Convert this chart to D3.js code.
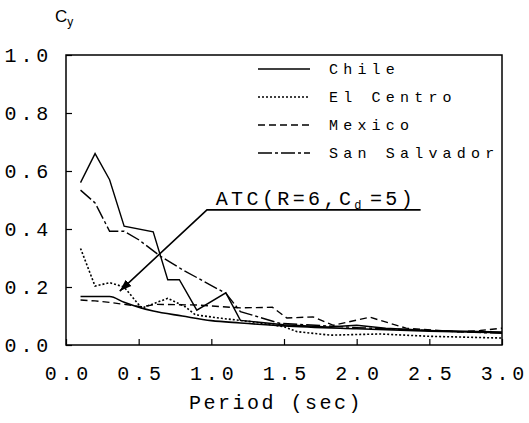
<!DOCTYPE html>
<html>
<head>
<meta charset="utf-8">
<script src="https://cdn.jsdelivr.net/npm/d3@7"></script>
<style>
  body { margin: 0; background: #fff; }
  svg { display: block; }
</style>
</head>
<body>
<svg id="chart"></svg>
<script>
// Données : [période (s), Cy]
const chile = [[0.1, 0.56], [0.2, 0.66], [0.3, 0.57], [0.4, 0.41], [0.6, 0.39], [0.7, 0.225],
    [0.78, 0.225], [0.9, 0.12], [1.1, 0.18], [1.2, 0.085], [1.5, 0.07], [1.8, 0.062],
    [2.0, 0.068], [2.2, 0.058], [2.5, 0.05], [3.0, 0.045]];
const elCentro = [[0.1, 0.333], [0.2, 0.203], [0.3, 0.215], [0.4, 0.2], [0.52, 0.127], [0.7, 0.161],
    [0.82, 0.132], [0.89, 0.104], [1.07, 0.092], [1.28, 0.08], [1.5, 0.063], [1.59, 0.046],
    [1.82, 0.034], [2.16, 0.038], [2.5, 0.03], [3.0, 0.024]];
const mexico = [[0.1, 0.155], [0.2, 0.152], [0.3, 0.147], [0.52, 0.132], [0.62, 0.14], [0.9, 0.138],
    [1.2, 0.128], [1.42, 0.13], [1.52, 0.093], [1.7, 0.097], [1.84, 0.068], [2.09, 0.096],
    [2.34, 0.058], [2.7, 0.045], [2.85, 0.05], [3.0, 0.058]];
const sanSalvador = [[0.1, 0.534], [0.2, 0.49], [0.3, 0.392], [0.4, 0.392], [0.5, 0.363], [0.65, 0.306],
    [0.8, 0.26], [1.1, 0.178], [1.2, 0.115], [1.47, 0.075], [2.0, 0.06], [2.5, 0.05], [3.0, 0.04]];
const atc = [[0.1, 0.167], [0.3, 0.167], [0.4, 0.147], [0.5, 0.13], [0.6, 0.117], [0.8, 0.1],
    [1.0, 0.084], [1.2, 0.076], [1.5, 0.066], [2.0, 0.056], [2.5, 0.048], [3.0, 0.042]];

const seriesNames = ["Chile", "El Centro", "Mexico", "San Salvador"];
const seriesData = [chile, elCentro, mexico, sanSalvador];
const xTicks = [0, 0.5, 1.0, 1.5, 2.0, 2.5, 3.0];
const yTicks = [0, 0.2, 0.4, 0.6, 0.8, 1.0];

// Annotation ATC (coordonnées en unités des axes)
const atcLabelPos = [1.03, 0.483];
const atcUnderline = [[2.44, 0.466], [0.97, 0.466], [0.37, 0.186]];

// Styles des traits
const dashStyles = ["none", "2,2", "7,4", "14,3,3,3"];

const width = 529, height = 423;
const svg = d3.select("#chart").attr("width", width).attr("height", height);

const x = d3.scaleLinear().domain([0, 3]).range([66, 502]);
const y = d3.scaleLinear().domain([0, 1]).range([345, 55]);

const mono = "'Liberation Mono', 'DejaVu Sans Mono', monospace";

// Cadre
svg.append("rect")
    .attr("x", x(0)).attr("y", y(1))
    .attr("width", x(3) - x(0)).attr("height", y(0) - y(1))
    .attr("fill", "none").attr("stroke", "#000").attr("stroke-width", 1.5);

// Axes (graduations vers l'intérieur)
const xAxis = svg.append("g")
    .attr("transform", `translate(0,${y(0)})`)
    .call(d3.axisBottom(x).tickValues(xTicks).tickFormat(d3.format(".1f"))
        .tickSizeInner(-6).tickSizeOuter(0).tickPadding(21));
const yAxis = svg.append("g")
    .attr("transform", `translate(${x(0)},0)`)
    .call(d3.axisLeft(y).tickValues(yTicks).tickFormat(d3.format(".1f"))
        .tickSizeInner(-6).tickSizeOuter(0).tickPadding(14));

[xAxis, yAxis].forEach(g => {
    g.select(".domain").remove();
    g.selectAll("line").attr("stroke", "#000").attr("stroke-width", 1.2);
    g.selectAll("text")
        .attr("font-family", mono)
        .attr("font-size", 20)
        .attr("letter-spacing", 3.8)
        .attr("fill", "#000");
});
xAxis.selectAll("text").attr("dx", 1.9);

// Titre des axes
svg.append("text")
    .attr("x", 276).attr("y", 409)
    .attr("text-anchor", "middle")
    .attr("font-family", mono).attr("font-size", 20).attr("letter-spacing", 2.5)
    .text("Period (sec)");

const cy = svg.append("text")
    .attr("x", 55).attr("y", 22)
    .attr("font-family", "'Liberation Sans', Arial, sans-serif").attr("font-size", 17);
cy.append("tspan").text("C");
cy.append("tspan").attr("font-size", 12).attr("dy", 4).text("y");

// Courbes
const line = d3.line().x(d => x(d[0])).y(d => y(d[1]));

svg.selectAll("path.series")
    .data(seriesData)
    .join("path")
    .attr("class", "series")
    .attr("d", line)
    .attr("fill", "none")
    .attr("stroke", "#000")
    .attr("stroke-width", (d, i) => i === 1 ? 1.6 : 1.4)
    .attr("stroke-dasharray", (d, i) => dashStyles[i]);

svg.append("path")
    .datum(atc)
    .attr("d", line.curve(d3.curveMonotoneX))
    .attr("fill", "none")
    .attr("stroke", "#000")
    .attr("stroke-width", 1.6);
line.curve(d3.curveLinear);

// Légende
const legend = svg.append("g");
seriesNames.forEach((name, i) => {
    const ly = 69 + i * 28;
    legend.append("line")
        .attr("x1", 258).attr("x2", 310).attr("y1", ly).attr("y2", ly)
        .attr("stroke", "#000").attr("stroke-width", 1.4)
        .attr("stroke-dasharray", dashStyles[i]);
    legend.append("text")
        .attr("x", 329).attr("y", ly).attr("dy", "0.35em")
        .attr("font-family", mono).attr("font-size", 15)
        .attr("letter-spacing", 5.2)
        .text(name);
});

// Annotation ATC avec flèche
svg.append("defs").append("marker")
    .attr("id", "arrow")
    .attr("viewBox", "0 0 10 10")
    .attr("refX", 10).attr("refY", 5)
    .attr("markerWidth", 12).attr("markerHeight", 12)
    .attr("markerUnits", "userSpaceOnUse")
    .attr("orient", "auto")
    .append("path").attr("d", "M0,1.5 L10,5 L0,8.5 Z").attr("fill", "#000");

svg.append("path")
    .datum(atcUnderline)
    .attr("d", line)
    .attr("fill", "none")
    .attr("stroke", "#000")
    .attr("stroke-width", 1.6)
    .attr("marker-end", "url(#arrow)");

const atcText = svg.append("text")
    .attr("x", x(atcLabelPos[0])).attr("y", y(atcLabelPos[1]))
    .attr("font-family", mono).attr("font-size", 20).attr("letter-spacing", 3.4);
atcText.append("tspan").text("ATC(R=6,C");
atcText.append("tspan").attr("font-size", 12).attr("dy", 4).text("d");
atcText.append("tspan").attr("dy", -4).attr("dx", 5).text("=5)");
</script>
</body>
</html>
